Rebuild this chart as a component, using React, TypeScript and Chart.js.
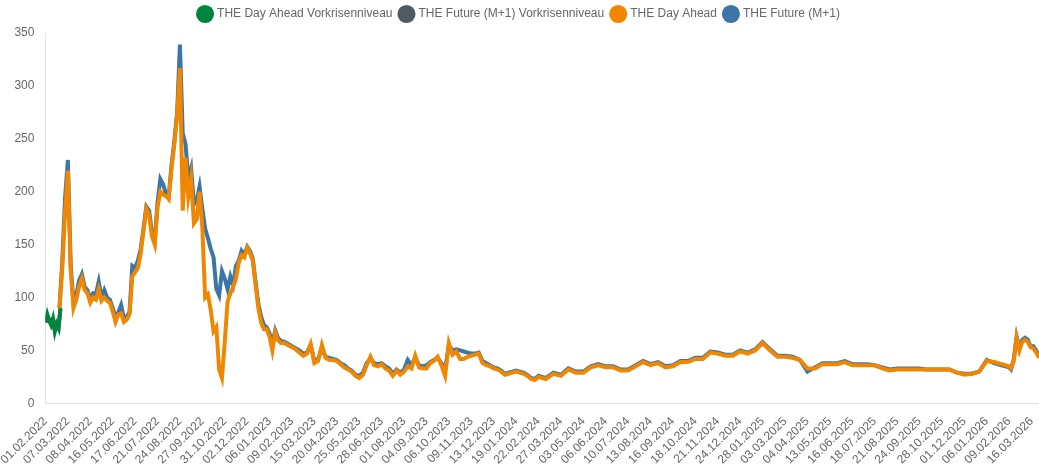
import React, { useEffect, useRef } from 'react';
import { Chart, registerables } from 'chart.js';

Chart.register(...registerables);
Chart.defaults.font.family = "'Liberation Sans', Arial, Helvetica, sans-serif";

// Tick labels: one every 24 trading days
const tickLabels = [
  '01.02.2022', '07.03.2022', '08.04.2022', '16.05.2022', '17.06.2022', '21.07.2022', '24.08.2022',
  '27.09.2022', '31.10.2022', '02.12.2022', '06.01.2023', '09.02.2023', '15.03.2023', '20.04.2023',
  '25.05.2023', '28.06.2023', '01.08.2023', '04.09.2023', '06.10.2023', '09.11.2023', '13.12.2023',
  '19.01.2024', '22.02.2024', '27.03.2024', '03.05.2024', '06.06.2024', '10.07.2024', '13.08.2024',
  '16.09.2024', '18.10.2024', '21.11.2024', '24.12.2024', '28.01.2025', '03.03.2025', '04.04.2025',
  '13.05.2025', '16.06.2025', '18.07.2025', '21.08.2025', '24.09.2025', '28.10.2025', '01.12.2025',
  '06.01.2026', '09.02.2026', '16.03.2026',
];
const TICK_STEP = 24;
const LAST_DAY = 1064;

function span(from: number, to: number, step: number): number[] {
  const r: number[] = [];
  for (let v = from; v <= to; v += step) r.push(v);
  return r;
}

// Pre-crisis period (trading-day index)
const preCrisisDays = [0, 2, 4, 6, 8, 10, 12, 14, 16];
const dayAheadPreCrisis = [76, 84, 78, 74, 80, 68, 75, 71, 90];
const futurePreCrisis = [77, 83, 79, 75, 79, 70, 74, 72, 89];

// Sampled trading-day indices for the main series
const tradingDays = [
  ...span(15, 249, 3),
  ...span(252, 536, 4),
  ...span(544, 1032, 8),
  ...span(1034, 1064, 3),
];

const dayAhead = [
  // 15..249 step 3
  90, 128, 180, 220, 126, 90, 98, 110, 118, 107,
  104, 95, 100, 98, 108, 97, 100, 97, 95, 87,
  77, 84, 85, 77, 79, 84, 120, 124, 128, 142,
  163, 184, 178, 158, 150, 185, 200, 197, 196, 193,
  222, 245, 272, 317, 182, 232, 195, 212, 170, 174,
  200, 166, 100, 103, 88, 68, 72, 32, 24, 58,
  96, 104, 110, 118, 133, 140, 138, 147, 142, 135,
  112, 90, 76, 70, 70, 63, 50, 67, 60,
  // 252..536 step 4
  57, 57, 55, 53, 51, 48, 45, 47, 56, 38,
  40, 55, 43, 41, 41, 40, 37, 34, 32, 30,
  26, 24, 27, 36, 44, 36, 35, 37, 33, 31,
  26, 31, 27, 30, 35, 33, 45, 34, 33, 33,
  38, 40, 44, 36, 26, 57, 46, 49, 42, 42,
  44, 45, 46, 47, 38, 36, 35, 33, 32, 30,
  27, 28, 29, 30, 29, 28, 26, 23, 22, 25,
  24, 23,
  // 544..1032 step 8
  28, 26, 32, 29, 29, 34, 36, 34, 34, 31,
  31, 35, 39, 36, 38, 34, 35, 39, 39, 42,
  42, 48, 47, 45, 45, 49, 47, 50, 57, 50,
  44, 44, 43, 41, 33, 33, 37, 37, 37, 39,
  36, 36, 36, 36, 33, 31, 32, 32, 32, 32,
  32, 32, 32, 32, 29, 27, 28, 30, 40, 39,
  37, 35,
  // 1034..1064 step 3
  33, 40, 62, 50, 58, 60, 58, 53, 52, 48, 43,
];

const future = [
  // 15..249 step 3
  90, 134, 194, 230, 131, 95, 102, 116, 122, 110,
  107, 98, 104, 103, 115, 100, 107, 100, 98, 90,
  82, 86, 93, 80, 82, 86, 130, 128, 135, 146,
  165, 186, 182, 162, 153, 190, 212, 207, 198, 196,
  225, 248, 275, 339, 255, 245, 212, 222, 188, 192,
  205, 184, 165, 156, 146, 138, 108, 102, 125, 118,
  108, 120, 112, 130, 135, 144, 140, 148, 144, 137,
  115, 94, 82, 74, 72, 66, 56, 69, 62,
  // 252..536 step 4
  59, 58, 56, 54, 52, 50, 47, 48, 55, 40,
  42, 52, 44, 43, 42, 41, 38, 36, 33, 31,
  27, 26, 29, 38, 42, 38, 37, 38, 35, 33,
  28, 32, 29, 32, 41, 36, 43, 36, 35, 36,
  39, 41, 43, 38, 32, 55, 50, 51, 50, 49,
  48, 47, 47, 48, 40, 38, 36, 34, 33, 31,
  28, 29, 30, 31, 30, 29, 27, 24, 23, 26,
  25, 24,
  // 544..1032 step 8
  29, 27, 33, 30, 30, 35, 37, 35, 35, 32,
  32, 36, 40, 37, 39, 35, 36, 40, 40, 43,
  43, 49, 48, 46, 46, 50, 48, 51, 58, 51,
  45, 45, 44, 41, 30, 34, 38, 38, 38, 40,
  37, 37, 37, 36, 34, 32, 33, 33, 33, 33,
  32, 32, 32, 32, 29, 28, 28, 30, 41, 38,
  36, 34,
  // 1034..1064 step 3
  32, 42, 63, 52, 60, 62, 60, 54, 54, 50, 45,
];

const seriesNames = [
  'THE Day Ahead Vorkrisenniveau',
  'THE Future (M+1) Vorkrisenniveau',
  'THE Day Ahead',
  'THE Future (M+1)',
];
const seriesColors = ['#00853F', '#4E5B63', '#F18700', '#3B76A6'];

function toPoints(xs: number[], ys: number[]) {
  return xs.map((x, i) => ({ x, y: ys[i] }));
}

// Adds a little space below the legend
const legendGap = {
  id: 'legendGap',
  beforeInit(chart: any) {
    const legend = chart.legend;
    if (!legend) return;
    const origFit = legend.fit;
    legend.fit = function () {
      origFit.call(this);
      this.height += 3;
    };
  },
};

export default function App() {
  const ref = useRef<HTMLCanvasElement>(null);
  useEffect(() => {
    document.body.style.margin = '0';
    const canvas = ref.current;
    if (!canvas) return;
    const mk = (i: number, data: { x: number; y: number }[]) => ({
      label: seriesNames[i],
      data,
      borderColor: seriesColors[i],
      backgroundColor: seriesColors[i],
      borderWidth: 4,
      pointRadius: 0,
      pointHoverRadius: 0,
      tension: 0,
    });
    const chart = new Chart(canvas, {
      type: 'line',
      data: {
        datasets: [
          mk(0, toPoints(preCrisisDays, dayAheadPreCrisis)),
          mk(1, toPoints(preCrisisDays, futurePreCrisis)),
          mk(2, toPoints(tradingDays, dayAhead)),
          mk(3, toPoints(tradingDays, future)),
        ],
      },
      plugins: [legendGap],
      options: {
        animation: false,
        responsive: false,
        devicePixelRatio: 1,
        plugins: {
          legend: {
            labels: {
              usePointStyle: true,
              pointStyle: 'circle',
              boxHeight: 10,
              padding: 8,
              color: '#666',
              font: { size: 12 },
            },
          },
          tooltip: { enabled: false },
        },
        scales: {
          x: {
            type: 'linear',
            min: 0,
            max: LAST_DAY,
            grid: { display: false },
            border: { color: '#e4e4e4' },
            afterBuildTicks: (axis: any) => {
              axis.ticks = tickLabels.map((_, i) => ({ value: i * TICK_STEP }));
            },
            afterFit: (axis: any) => {
              axis.paddingRight = 0;
            },
            ticks: {
              autoSkip: false,
              minRotation: 45,
              maxRotation: 45,
              color: '#666',
              font: { size: 12 },
              callback: (v: any) => tickLabels[Math.round(Number(v) / TICK_STEP)] ?? '',
            },
          },
          y: {
            min: 0,
            max: 350,
            grid: { display: false },
            border: { color: '#e4e4e4' },
            ticks: { stepSize: 50, color: '#666', font: { size: 12 } },
          },
        },
      },
    } as any);
    return () => chart.destroy();
  }, []);
  return (
    <div style={{ width: 1039, height: 470 }}>
      <canvas ref={ref} width={1039} height={470} style={{ display: 'block' }} />
    </div>
  );
}
